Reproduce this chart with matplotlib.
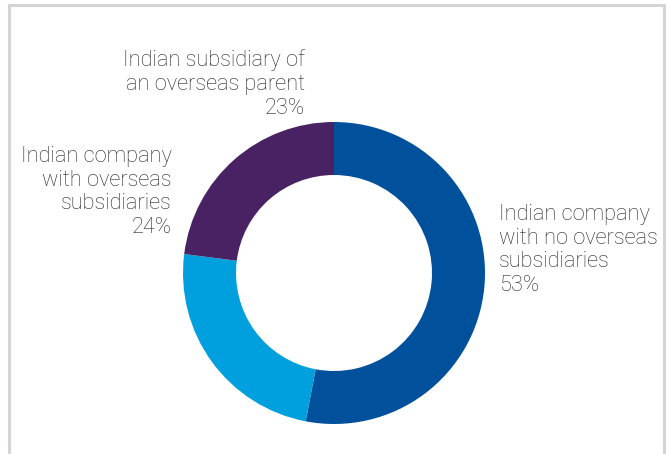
import matplotlib.pyplot as plt

labels = ["Indian company\nwith no overseas\nsubsidiaries", "Indian company\nwith overseas\nsubsidiaries", "Indian subsidiary of\nan overseas parent"]
shares = [53, 24, 23]
colors = ["#00509b", "#009fdd", "#482263"]

plt.rcParams['font.family'] = ['Roboto', 'DejaVu Sans']

fig = plt.figure(figsize=(6.7, 4.54), dpi=100)
ax = fig.add_axes([0, 0, 1, 1])

ax.pie(shares, colors=colors, startangle=90, counterclock=False,
       center=(334, 181), radius=151, frame=True,
       wedgeprops=dict(width=53, linewidth=0))
ax.set_xlim(0, 670)
ax.set_ylim(0, 454)
ax.axis('off')

# panel border (open at the bottom)
ax.plot([9, 9, 664, 664], [-5, 449, 449, -5], color="#d4d4d4", lw=2.2,
        solid_joinstyle='miter', clip_on=False)

txt = dict(fontsize=15.7, color="#262626", fontweight='light', linespacing=1.18)
ax.text(499, 204, f"{labels[0]}\n{shares[0]}%", ha='left', va='center', **txt)
ax.text(172, 262, f"{labels[1]}\n{shares[1]}%", ha='right', va='center', multialignment='right', **txt)
ax.text(305, 370, f"{labels[2]}\n{shares[2]}%", ha='right', va='center', multialignment='right', **txt)

fig.savefig("out.png", dpi=100)
